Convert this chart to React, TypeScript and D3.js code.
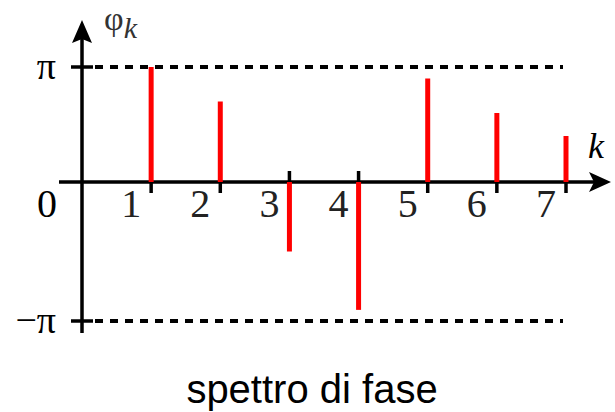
import React from "react";
import * as d3 from "d3";

// Harmonic index k and phase φ_k (in units of π)
const harmonics = [1, 2, 3, 4, 5, 6, 7];
const phaseOverPi = [1.0, 0.7, -0.5, -0.92, 0.9, 0.6, 0.4];
const kTickLabels = ["1", "2", "3", "4", "5", "6", "7"];
const yRefLevels = [Math.PI, -Math.PI];
const yRefLabels = ["π", "−π"];

const W = 615;
const H = 412;

export default function App() {
  const x = d3.scaleLinear().domain([0, 7]).range([82, 566]);
  const y = d3
    .scaleLinear()
    .domain([-Math.PI, 0, Math.PI])
    .range([321, 182, 67]);

  const x0 = x(0);
  const y0 = y(0);
  const serif = "'Liberation Serif', 'Times New Roman', serif";

  return (
    <svg
      width={W}
      height={H}
      viewBox={`0 0 ${W} ${H}`}
      style={{ position: "absolute", left: 0, top: 0, background: "#fff" }}
    >
      {/* reference levels ±π: solid tick, then dashed line */}
      {yRefLevels.map((v, i) => (
        <g key={`ref-${i}`}>
          <line x1={x0 - 11} x2={x0 + 11} y1={y(v)} y2={y(v)} stroke="#000" strokeWidth={3.5} />
          <line
            x1={x0 + 13}
            x2={563}
            y1={y(v)}
            y2={y(v)}
            stroke="#000"
            strokeWidth={4}
            strokeDasharray="8 7"
          />
          <text
            x={x0 - 26}
            y={y(v) + 12}
            textAnchor="end"
            fontFamily={serif}
            fontSize={38}
            fill="#000"
          >
            {yRefLabels[i]}
          </text>
        </g>
      ))}

      {/* horizontal axis with arrowhead */}
      <line x1={59} x2={594} y1={y0} y2={y0} stroke="#000" strokeWidth={3.5} />
      <path
        d={`M611,${y0} L589,${y0 - 10} L594,${y0} L589,${y0 + 10} Z`}
        fill="#000"
      />
      {/* vertical axis with arrowhead */}
      <line x1={x0} x2={x0} y1={333} y2={38} stroke="#000" strokeWidth={3.5} />
      <path d={`M${x0},20 L${x0 - 10},43 L${x0},39 L${x0 + 10},43 Z`} fill="#000" />

      {/* axis labels */}
      <text x={588} y={158} fontFamily={serif} fontStyle="italic" fontSize={36} fill="#000">
        k
      </text>
      <text x={104} y={30} fontFamily={serif} fontSize={34} fill="#333">
        φ
        <tspan dy={8} fontStyle="italic" fontSize={30}>
          k
        </tspan>
      </text>
      <text
        x={x0 - 35}
        y={217}
        textAnchor="middle"
        fontFamily={serif}
        fontSize={40}
        fill="#000"
      >
        0
      </text>

      {/* ticks on the k axis, opposite to each stem */}
      {harmonics.map((k, i) => {
        const up = phaseOverPi[i] < 0;
        return (
          <line
            key={`tick-${k}`}
            x1={x(k)}
            x2={x(k)}
            y1={y0}
            y2={up ? y0 - 11 : y0 + 11}
            stroke="#000"
            strokeWidth={3.5}
          />
        );
      })}
      {harmonics.map((k, i) => (
        <text
          key={`lab-${k}`}
          x={x(k) - 20}
          y={217}
          textAnchor="middle"
          fontFamily={serif}
          fontSize={40}
          fill="#222"
        >
          {kTickLabels[i]}
        </text>
      ))}

      {/* phase stems */}
      {harmonics.map((k, i) => (
        <line
          key={`stem-${k}`}
          x1={x(k)}
          x2={x(k)}
          y1={y0}
          y2={y(phaseOverPi[i] * Math.PI)}
          stroke="#ff0000"
          strokeWidth={5}
        />
      ))}

      <text
        x={312}
        y={403}
        textAnchor="middle"
        fontFamily="'Liberation Sans', Arial, sans-serif"
        fontSize={40}
        fill="#000"
      >
        spettro di fase
      </text>
    </svg>
  );
}
